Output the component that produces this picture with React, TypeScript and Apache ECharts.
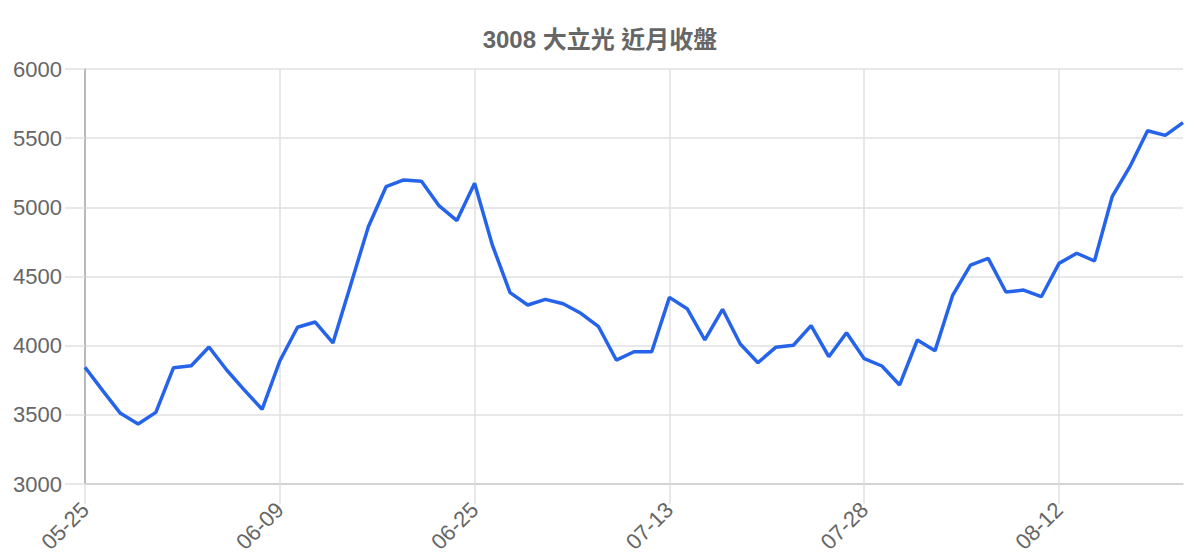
import React, { useEffect, useRef } from 'react';
import * as echarts from 'echarts';

// 交易日期
const dates = [
  '05-25', '05-26', '05-27', '05-28', '05-29', '06-01', '06-02', '06-03', '06-04', '06-05', '06-08',
  '06-09', '06-10', '06-11', '06-12', '06-15', '06-16', '06-17', '06-18', '06-22', '06-23', '06-24',
  '06-25', '06-26', '06-29', '06-30', '07-01', '07-02', '07-03', '07-06', '07-07', '07-08', '07-09',
  '07-13', '07-14', '07-15', '07-16', '07-17', '07-20', '07-21', '07-22', '07-23', '07-24', '07-27',
  '07-28', '07-29', '07-30', '07-31', '08-03', '08-04', '08-05', '08-06', '08-07', '08-10', '08-11',
  '08-12', '08-13', '08-14', '08-17', '08-18', '08-19', '08-20', '08-21',
];

// 收盤價
const closes = [
  3844, 3675, 3511, 3434, 3518, 3841, 3855, 3990, 3824, 3679, 3540,
  3889, 4133, 4171, 4020, 4439, 4860, 5149, 5198, 5188, 5010, 4904,
  5174, 4728, 4383, 4294, 4335, 4303, 4234, 4137, 3896, 3956, 3956,
  4349, 4267, 4041, 4263, 4012, 3877, 3988, 4003, 4145, 3920, 4094,
  3906, 3853, 3716, 4041, 3964, 4366, 4583, 4631, 4388, 4402, 4354,
  4595, 4668, 4612, 5077, 5294, 5554, 5520, 5612,
];

const title = '3008 大立光 近月收盤';
const FONT = '"Liberation Sans", Arial, "Noto Sans CJK TC", sans-serif';

const App: React.FC = () => {
  const chartRef = useRef<HTMLDivElement>(null);

  useEffect(() => {
    if (!chartRef.current) return;
    const chart = echarts.init(chartRef.current, null, { renderer: 'svg' });

    chart.setOption({
      animation: false,
      backgroundColor: '#ffffff',
      title: {
        text: title,
        left: 'center',
        top: 22,
        textStyle: {
          color: '#666666',
          fontSize: 24,
          fontWeight: 'bold',
          fontFamily: FONT,
        },
      },
      grid: {
        left: 85,
        right: 17,
        top: 69,
        bottom: 76,
        containLabel: false,
      },
      xAxis: {
        type: 'category',
        data: dates,
        boundaryGap: false,
        axisLine: { lineStyle: { color: '#cccccc', width: 1.5 } },
        axisTick: {
          show: true,
          interval: 10,
          length: 20,
          lineStyle: { color: '#e0e0e0', width: 1.5 },
        },
        splitLine: {
          show: true,
          interval: 10,
          lineStyle: { color: '#e0e0e0', width: 1.5 },
        },
        axisLabel: {
          interval: 10,
          rotate: 45,
          margin: 22,
          color: '#666666',
          fontSize: 22,
          fontFamily: FONT,
        },
      },
      yAxis: {
        type: 'value',
        min: 3000,
        max: 6000,
        interval: 500,
        axisLine: { show: true, lineStyle: { color: '#aaaaaa', width: 1.5 } },
        axisTick: {
          show: true,
          length: 20,
          lineStyle: { color: '#e0e0e0', width: 1.5 },
        },
        splitLine: { lineStyle: { color: '#e0e0e0', width: 1.5 } },
        axisLabel: {
          margin: 23,
          color: '#666666',
          fontSize: 22,
          fontFamily: FONT,
          formatter: (v: number) => String(v),
        },
      },
      series: [
        {
          name: '收盤',
          type: 'line',
          data: closes,
          showSymbol: false,
          lineStyle: { color: '#2563eb', width: 3.5 },
          itemStyle: { color: '#2563eb' },
        },
      ],
    });

    return () => {
      chart.dispose();
    };
  }, []);

  return (
    <div
      ref={chartRef}
      style={{ position: 'absolute', left: 0, top: 0, width: '1200px', height: '560px' }}
    ></div>
  );
};

export default App;
